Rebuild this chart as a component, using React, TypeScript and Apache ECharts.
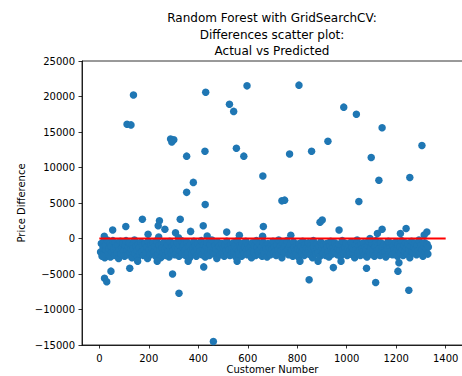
import React, { useEffect, useRef } from "react";
import * as echarts from "echarts";

const titleLines = [
  "Random Forest with GridSearchCV:",
  "Differences scatter plot:",
  "Actual vs Predicted",
];
const xTickValues = [0, 200, 400, 600, 800, 1000, 1200, 1400];
const xLabel = "Customer Number";
const yLabel = "Price Difference";

// [customer number, price difference] — large positive errors
const highOutliers: [number, number][] = [
  [138, 20200], [430, 20600], [597, 21500], [526, 18900], [543, 17900],
  [112, 16100], [128, 16000], [288, 14000], [301, 13900], [293, 13600],
  [353, 11600], [427, 12300], [554, 12700], [584, 11600], [661, 8800],
  [380, 7900], [353, 6500], [428, 4800], [807, 21600], [988, 18500],
  [1039, 17500], [1143, 15600], [924, 13700], [858, 12300], [769, 11900],
  [1304, 13100], [1099, 11400], [1130, 8200], [1255, 8600], [738, 5300],
  [749, 5400], [1049, 5200],
];

// moderate positive errors just above the zero line
const smallPositive: [number, number][] = [
  [174, 2700], [243, 2500], [327, 2700], [107, 1700], [54, 1200],
  [238, 1800], [265, 1300], [420, 1800], [369, 1000], [308, 800],
  [197, 600], [515, 900], [566, 450], [663, 1700], [436, 350],
  [892, 2300], [901, 2600], [969, 1200], [774, 450], [1094, 0],
  [1124, 700], [1143, 1300], [1217, 700], [1240, 1400], [1324, 900],
  [1313, 500], [240, 200], [320, 100], [660, 300], [20, 300],
];

// negative outliers below the main band
const lowOutliers: [number, number][] = [
  [11, -2500], [47, -4600], [21, -5600], [30, -6100], [123, -4200],
  [296, -5000], [322, -7700], [422, -4000], [461, -14500], [155, -3200],
  [234, -3200], [359, -3200], [557, -3200], [848, -5800], [946, -4100],
  [1080, -4200], [1117, -6200], [1207, -4600], [1211, -3400], [1251, -7300],
  [977, -3200], [884, -3200], [811, -3200],
];

// main dense band of small errors
const bandPoints: [number, number][] = [
  [5, -1900], [8, -700], [12, -2300], [15, -1300], [18, -400], [22, -2700], [25, -1000], [28, -1700],
  [32, -200], [35, -2200], [38, -1400], [42, -800], [45, -2600], [48, -1100], [52, -1900], [55, -300],
  [58, -1500], [62, -2400], [65, -600], [68, -1200], [72, -2000], [75, -900], [78, -2800], [82, -1600],
  [85, -400], [88, -2200], [92, -1300], [95, -700], [98, -1800], [102, -2500], [105, -1000], [108, -300],
  [112, -1700], [115, -2300], [118, -1200], [122, -600], [125, -2000], [128, -1500], [132, -2700], [135, -900],
  [138, -1400], [142, -200], [145, -2100], [148, -1100], [152, -1700], [155, -2600], [158, -800], [162, -1300],
  [165, -2200], [168, -500], [172, -1900], [175, -1000], [178, -2400], [182, -1500], [185, -700], [188, -2000],
  [192, -1200], [195, -2800], [198, -400], [202, -1600], [205, -2300], [208, -900], [212, -1400], [215, -2100],
  [218, -600], [222, -1800], [225, -1100], [228, -2500], [232, -300], [235, -1500], [238, -2200], [242, -1000],
  [245, -1700], [248, -2700], [252, -800], [255, -1300], [258, -2000], [262, -500], [265, -1600], [268, -2400],
  [272, -1200], [275, -900], [278, -1900], [282, -2600], [285, -400], [288, -1400], [292, -2100], [295, -1100],
  [298, -1700], [302, -700], [305, -2300], [308, -1300], [312, -2000], [315, -600], [318, -1500], [322, -2500],
  [325, -1000], [328, -1800], [332, -300], [335, -2200], [338, -1200], [342, -900], [345, -1700], [348, -2400],
  [352, -1400], [355, -500], [358, -2000], [362, -1100], [365, -2700], [368, -800], [372, -1600], [375, -2200],
  [378, -1300], [382, -400], [385, -1900], [388, -1000], [392, -2500], [395, -1500], [398, -700], [402, -2100],
  [405, -1200], [408, -1800], [412, -300], [415, -2300], [418, -1400], [422, -900], [425, -1700], [428, -2600],
  [432, -1100], [435, -600], [438, -2000], [442, -1300], [445, -2400], [448, -800], [452, -1600], [455, -200],
  [458, -1900], [462, -1200], [465, -2200], [468, -1000], [472, -1500], [475, -2800], [478, -500], [482, -1800],
  [485, -1100], [488, -2300], [492, -1400], [495, -700], [498, -2000], [502, -1300], [505, -2500], [508, -900],
  [512, -1700], [515, -400], [518, -2100], [522, -1200], [525, -1600], [528, -2400], [532, -800], [535, -1400],
  [538, -2000], [542, -600], [545, -1900], [548, -1100], [552, -2600], [555, -1500], [558, -300], [562, -1800],
  [565, -2200], [568, -1000], [572, -1300], [575, -2500], [578, -700], [582, -1700], [585, -2100], [588, -1200],
  [592, -400], [595, -1600], [598, -2300], [602, -900], [605, -1400], [608, -2000], [612, -1100], [615, -2700],
  [618, -600], [622, -1500], [625, -1900], [628, -1000], [632, -2400], [635, -300], [638, -1300], [642, -1800],
  [645, -2200], [648, -800], [652, -1600], [655, -1200], [658, -2500], [662, -500], [665, -1700], [668, -2100],
  [672, -1100], [675, -1400], [678, -2600], [682, -700], [685, -1900], [688, -1300], [692, -2300], [695, -1000],
  [698, -1500], [702, -400], [705, -2000], [708, -1200], [712, -1800], [715, -2400], [718, -900], [722, -1600],
  [725, -200], [728, -2200], [732, -1100], [735, -1700], [738, -2700], [742, -600], [745, -1400], [748, -2000],
  [752, -1000], [755, -1900], [758, -300], [762, -1500], [765, -2300], [768, -1200], [772, -800], [775, -2100],
  [778, -1600], [782, -2500], [785, -500], [788, -1300], [792, -1800], [795, -2200], [798, -1000], [802, -1500],
  [805, -2600], [808, -700], [812, -1700], [815, -1100], [818, -2000], [822, -400], [825, -1400], [828, -2400],
  [832, -900], [835, -1900], [838, -1300], [842, -2100], [845, -600], [848, -1600], [852, -2300], [855, -1000],
  [858, -1500], [862, -2700], [865, -300], [868, -1200], [872, -1800], [875, -2200], [878, -800], [882, -1400],
  [885, -2000], [888, -1100], [892, -2500], [895, -500], [898, -1700], [902, -1300], [905, -2100], [908, -900],
  [912, -1600], [915, -2400], [918, -700], [922, -1200], [925, -1900], [928, -2600], [932, -1000], [935, -400],
  [938, -1500], [942, -2200], [945, -1300], [948, -1800], [952, -600], [955, -2000], [958, -1100], [962, -2300],
  [965, -1400], [968, -800], [972, -1700], [975, -2500], [978, -1000], [982, -300], [985, -1600], [988, -2100],
  [992, -1200], [995, -1900], [998, -700], [1002, -2400], [1005, -1400], [1008, -1000], [1012, -1800], [1015, -2200],
  [1018, -500], [1022, -1300], [1025, -2000], [1028, -1500], [1032, -2700], [1035, -900], [1038, -1600], [1042, -200],
  [1045, -2100], [1048, -1100], [1052, -1700], [1055, -2400], [1058, -800], [1062, -1400], [1065, -1900], [1068, -600],
  [1072, -2300], [1075, -1200], [1078, -1600], [1082, -2600], [1085, -1000], [1088, -400], [1092, -1800], [1095, -2200],
  [1098, -1300], [1102, -700], [1105, -2000], [1108, -1500], [1112, -2500], [1115, -1100], [1118, -300], [1122, -1700],
  [1125, -2100], [1128, -900], [1132, -1400], [1135, -2400], [1138, -600], [1142, -1600], [1145, -1200], [1148, -2000],
  [1152, -800], [1155, -1900], [1158, -2600], [1162, -1000], [1165, -1500], [1168, -400], [1172, -2200], [1175, -1300],
  [1178, -1800], [1182, -700], [1185, -2300], [1188, -1100], [1192, -1600], [1195, -2000], [1198, -500], [1202, -1400],
  [1205, -2500], [1208, -900], [1212, -1700], [1215, -1200], [1218, -2100], [1222, -300], [1225, -1500], [1228, -2400],
  [1232, -1000], [1235, -1900], [1238, -600], [1242, -1300], [1245, -2200], [1248, -800], [1252, -1600], [1255, -2700],
  [1258, -1100], [1262, -400], [1265, -1800], [1268, -2000], [1272, -1200], [1275, -700], [1278, -1500], [1282, -2300],
  [1285, -1000], [1288, -1700], [1292, -200], [1295, -2100], [1298, -1300], [1302, -900], [1305, -1600], [1308, -2500],
  [1312, -1100], [1315, -600], [1318, -1900], [1322, -1400], [1325, -800], [1328, -2200], [1330, -1200],
];

// zero reference line
const zeroLine: [number, number][] = [[0, 0], [1400, 0]];

const FONT = "DejaVu Sans";

export default function App() {
  const ref = useRef<HTMLDivElement>(null);
  useEffect(() => {
    if (!ref.current) return;
    const chart = echarts.init(ref.current, null, { renderer: "svg" });
    const allPoints = [...bandPoints, ...smallPositive, ...lowOutliers, ...highOutliers];
    chart.setOption({
      animation: false,
      backgroundColor: "#ffffff",
      graphic: titleLines.map((t, i) => ({
        type: "text",
        x: 272,
        y: [18, 34.5, 51][i],
        style: {
          text: t,
          fontFamily: FONT,
          fontSize: 12,
          fill: "#000",
          textAlign: "center",
          textVerticalAlign: "middle",
        },
      })),
      grid: {
        left: 82,
        top: 61,
        width: 381,
        height: 284,
        outerBoundsMode: "none",
        containLabel: false,
        show: true,
        borderColor: "#000",
        borderWidth: 0.8,
        backgroundColor: "transparent",
      },
      xAxis: {
        type: "value",
        min: -70,
        max: 1470,
        name: xLabel,
        nameLocation: "middle",
        nameGap: 19,
        nameMoveOverlap: false,
        nameTextStyle: { fontFamily: FONT, fontSize: 10, color: "#000", lineHeight: 11 },
        axisLine: { show: true, onZero: false, lineStyle: { color: "#000", width: 0.8 } },
        axisTick: {
          show: true,
          length: 3.5,
          customValues: xTickValues,
          lineStyle: { color: "#000", width: 0.8 },
        },
        axisLabel: {
          customValues: xTickValues,
          fontFamily: FONT,
          fontSize: 10,
          color: "#000",
          margin: 8,
          formatter: (v: number) => String(v),
        },
        splitLine: { show: false },
      },
      yAxis: {
        type: "value",
        min: -15000,
        max: 25000,
        interval: 5000,
        name: yLabel,
        nameLocation: "middle",
        nameGap: 56,
        nameRotate: 90,
        nameMoveOverlap: false,
        nameTextStyle: { fontFamily: FONT, fontSize: 10, color: "#000" },
        axisLine: { show: true, onZero: false, lineStyle: { color: "#000", width: 0.8 } },
        axisTick: { show: true, length: 3.5, lineStyle: { color: "#000", width: 0.8 } },
        axisLabel: {
          fontFamily: FONT,
          fontSize: 10,
          color: "#000",
          margin: 7,
          formatter: (v: number) => String(v).replace("-", "\u2212"),
        },
        splitLine: { show: false },
      },
      series: [
        {
          type: "scatter",
          data: allPoints,
          symbolSize: 7.5,
          itemStyle: { color: "#1f77b4", opacity: 1 },
          silent: true,
        },
        {
          type: "line",
          data: zeroLine,
          symbol: "none",
          lineStyle: { color: "#ff0000", width: 2 },
          z: 5,
          silent: true,
        },
      ],
    });
    return () => chart.dispose();
  }, []);
  return (
    <div
      ref={ref}
      style={{ position: "absolute", left: 0, top: 0, width: 462, height: 376 }}
    />
  );
}
